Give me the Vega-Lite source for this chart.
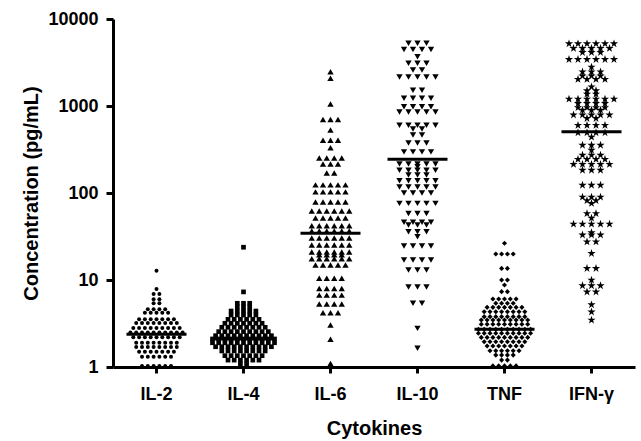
{
"$schema":"https://vega.github.io/schema/vega-lite/v6.json",
"width":522,"height":348,
"autosize":"none",
"padding":{"left":113,"top":19,"right":6,"bottom":74},
"background":"white",
"config":{"view":{"stroke":null},"axis":{"grid":false,"domainColor":"black","domainWidth":3,"tickColor":"black","tickWidth":3,"labelFont":"Liberation Sans","labelFontWeight":"bold","labelFontSize":18,"labelColor":"black","titleFont":"Liberation Sans","titleFontWeight":"bold","titleFontSize":20,"titleColor":"black"}},
"layer":[
{"data":{"values":[
{"c":"IL-2","v":12.8},{"c":"IL-2","v":7.9},{"c":"IL-2","v":6.9},{"c":"IL-2","v":6.9},{"c":"IL-2","v":6.0},{"c":"IL-2","v":6.0},{"c":"IL-2","v":5.4},{"c":"IL-2","v":5.4},
{"c":"IL-2","v":4.6},{"c":"IL-2","v":4.6},{"c":"IL-2","v":4.6},{"c":"IL-2","v":4.6},
{"c":"IL-2","v":4.2},{"c":"IL-2","v":4.2},{"c":"IL-2","v":4.2},{"c":"IL-2","v":4.2},{"c":"IL-2","v":4.2},
{"c":"IL-2","v":3.55},{"c":"IL-2","v":3.55},{"c":"IL-2","v":3.55},{"c":"IL-2","v":3.55},{"c":"IL-2","v":3.55},{"c":"IL-2","v":3.55},{"c":"IL-2","v":3.55},
{"c":"IL-2","v":3.2},{"c":"IL-2","v":3.2},{"c":"IL-2","v":3.2},{"c":"IL-2","v":3.2},{"c":"IL-2","v":3.2},{"c":"IL-2","v":3.2},{"c":"IL-2","v":3.2},{"c":"IL-2","v":3.2},
{"c":"IL-2","v":2.8},{"c":"IL-2","v":2.8},{"c":"IL-2","v":2.8},{"c":"IL-2","v":2.8},{"c":"IL-2","v":2.8},{"c":"IL-2","v":2.8},{"c":"IL-2","v":2.8},{"c":"IL-2","v":2.8},{"c":"IL-2","v":2.8},
{"c":"IL-2","v":2.5},{"c":"IL-2","v":2.5},{"c":"IL-2","v":2.5},{"c":"IL-2","v":2.5},{"c":"IL-2","v":2.5},{"c":"IL-2","v":2.5},{"c":"IL-2","v":2.5},{"c":"IL-2","v":2.5},{"c":"IL-2","v":2.5},{"c":"IL-2","v":2.5},
{"c":"IL-2","v":2.2},{"c":"IL-2","v":2.2},{"c":"IL-2","v":2.2},{"c":"IL-2","v":2.2},{"c":"IL-2","v":2.2},{"c":"IL-2","v":2.2},{"c":"IL-2","v":2.2},{"c":"IL-2","v":2.2},{"c":"IL-2","v":2.2},
{"c":"IL-2","v":1.9},{"c":"IL-2","v":1.9},{"c":"IL-2","v":1.9},{"c":"IL-2","v":1.9},{"c":"IL-2","v":1.9},{"c":"IL-2","v":1.9},{"c":"IL-2","v":1.9},{"c":"IL-2","v":1.9},
{"c":"IL-2","v":1.7},{"c":"IL-2","v":1.7},{"c":"IL-2","v":1.7},{"c":"IL-2","v":1.7},{"c":"IL-2","v":1.7},{"c":"IL-2","v":1.7},{"c":"IL-2","v":1.7},{"c":"IL-2","v":1.7},
{"c":"IL-2","v":1.5},{"c":"IL-2","v":1.5},{"c":"IL-2","v":1.5},{"c":"IL-2","v":1.5},{"c":"IL-2","v":1.5},{"c":"IL-2","v":1.5},{"c":"IL-2","v":1.5},
{"c":"IL-2","v":1.31},{"c":"IL-2","v":1.31},{"c":"IL-2","v":1.31},{"c":"IL-2","v":1.31},{"c":"IL-2","v":1.31},{"c":"IL-2","v":1.31},
{"c":"IL-2","v":1.03},{"c":"IL-2","v":1.03},{"c":"IL-2","v":1.03},{"c":"IL-2","v":1.03},{"c":"IL-2","v":1.03},{"c":"IL-2","v":1.03},
{"c":"IL-4","v":23.8},{"c":"IL-4","v":7.3},{"c":"IL-4","v":5.4},{"c":"IL-4","v":5.4},{"c":"IL-4","v":5.4},{"c":"IL-4","v":4.9},{"c":"IL-4","v":4.9},{"c":"IL-4","v":4.9},
{"c":"IL-4","v":4.4},{"c":"IL-4","v":4.4},{"c":"IL-4","v":4.4},{"c":"IL-4","v":4.4},{"c":"IL-4","v":4.4},
{"c":"IL-4","v":3.96},{"c":"IL-4","v":3.96},{"c":"IL-4","v":3.96},{"c":"IL-4","v":3.96},{"c":"IL-4","v":3.96},
{"c":"IL-4","v":3.53},{"c":"IL-4","v":3.53},{"c":"IL-4","v":3.53},{"c":"IL-4","v":3.53},{"c":"IL-4","v":3.53},{"c":"IL-4","v":3.53},
{"c":"IL-4","v":3.18},{"c":"IL-4","v":3.18},{"c":"IL-4","v":3.18},{"c":"IL-4","v":3.18},{"c":"IL-4","v":3.18},{"c":"IL-4","v":3.18},{"c":"IL-4","v":3.18},
{"c":"IL-4","v":2.86},{"c":"IL-4","v":2.86},{"c":"IL-4","v":2.86},{"c":"IL-4","v":2.86},{"c":"IL-4","v":2.86},{"c":"IL-4","v":2.86},{"c":"IL-4","v":2.86},{"c":"IL-4","v":2.86},
{"c":"IL-4","v":2.55},{"c":"IL-4","v":2.55},{"c":"IL-4","v":2.55},{"c":"IL-4","v":2.55},{"c":"IL-4","v":2.55},{"c":"IL-4","v":2.55},{"c":"IL-4","v":2.55},{"c":"IL-4","v":2.55},{"c":"IL-4","v":2.55},
{"c":"IL-4","v":2.29},{"c":"IL-4","v":2.29},{"c":"IL-4","v":2.29},{"c":"IL-4","v":2.29},{"c":"IL-4","v":2.29},{"c":"IL-4","v":2.29},{"c":"IL-4","v":2.29},{"c":"IL-4","v":2.29},{"c":"IL-4","v":2.29},{"c":"IL-4","v":2.29},
{"c":"IL-4","v":2.1},{"c":"IL-4","v":2.1},{"c":"IL-4","v":2.1},{"c":"IL-4","v":2.1},{"c":"IL-4","v":2.1},{"c":"IL-4","v":2.1},{"c":"IL-4","v":2.1},{"c":"IL-4","v":2.1},{"c":"IL-4","v":2.1},{"c":"IL-4","v":2.1},{"c":"IL-4","v":2.1},
{"c":"IL-4","v":1.9},{"c":"IL-4","v":1.9},{"c":"IL-4","v":1.9},{"c":"IL-4","v":1.9},{"c":"IL-4","v":1.9},{"c":"IL-4","v":1.9},{"c":"IL-4","v":1.9},{"c":"IL-4","v":1.9},{"c":"IL-4","v":1.9},{"c":"IL-4","v":1.9},{"c":"IL-4","v":1.9},
{"c":"IL-4","v":1.71},{"c":"IL-4","v":1.71},{"c":"IL-4","v":1.71},{"c":"IL-4","v":1.71},{"c":"IL-4","v":1.71},{"c":"IL-4","v":1.71},{"c":"IL-4","v":1.71},{"c":"IL-4","v":1.71},{"c":"IL-4","v":1.71},{"c":"IL-4","v":1.71},
{"c":"IL-4","v":1.53},{"c":"IL-4","v":1.53},{"c":"IL-4","v":1.53},{"c":"IL-4","v":1.53},{"c":"IL-4","v":1.53},{"c":"IL-4","v":1.53},{"c":"IL-4","v":1.53},{"c":"IL-4","v":1.53},
{"c":"IL-4","v":1.35},{"c":"IL-4","v":1.35},{"c":"IL-4","v":1.35},{"c":"IL-4","v":1.35},{"c":"IL-4","v":1.35},{"c":"IL-4","v":1.35},{"c":"IL-4","v":1.35},
{"c":"IL-4","v":1.2},{"c":"IL-4","v":1.2},{"c":"IL-4","v":1.2},{"c":"IL-4","v":1.2},{"c":"IL-4","v":1.2},{"c":"IL-4","v":1.2},
{"c":"IL-4","v":1.08},{"c":"IL-4","v":1.08},
{"c":"IL-6","v":2480},{"c":"IL-6","v":2080},{"c":"IL-6","v":1054},{"c":"IL-6","v":700},{"c":"IL-6","v":700},{"c":"IL-6","v":700},{"c":"IL-6","v":530},
{"c":"IL-6","v":405},{"c":"IL-6","v":405},{"c":"IL-6","v":405},{"c":"IL-6","v":331},
{"c":"IL-6","v":252},{"c":"IL-6","v":252},{"c":"IL-6","v":252},{"c":"IL-6","v":252},
{"c":"IL-6","v":215},{"c":"IL-6","v":215},{"c":"IL-6","v":215},{"c":"IL-6","v":170},{"c":"IL-6","v":170},
{"c":"IL-6","v":124},{"c":"IL-6","v":124},{"c":"IL-6","v":124},{"c":"IL-6","v":124},{"c":"IL-6","v":124},
{"c":"IL-6","v":103},{"c":"IL-6","v":103},{"c":"IL-6","v":103},{"c":"IL-6","v":103},{"c":"IL-6","v":103},
{"c":"IL-6","v":79},{"c":"IL-6","v":79},{"c":"IL-6","v":79},{"c":"IL-6","v":79},{"c":"IL-6","v":79},
{"c":"IL-6","v":62},{"c":"IL-6","v":62},{"c":"IL-6","v":62},{"c":"IL-6","v":62},{"c":"IL-6","v":62},{"c":"IL-6","v":62},
{"c":"IL-6","v":51.5},{"c":"IL-6","v":51.5},{"c":"IL-6","v":51.5},{"c":"IL-6","v":51.5},{"c":"IL-6","v":51.5},
{"c":"IL-6","v":42},{"c":"IL-6","v":42},{"c":"IL-6","v":42},{"c":"IL-6","v":42},{"c":"IL-6","v":42},{"c":"IL-6","v":42},
{"c":"IL-6","v":36.5},{"c":"IL-6","v":36.5},{"c":"IL-6","v":36.5},{"c":"IL-6","v":36.5},{"c":"IL-6","v":36.5},{"c":"IL-6","v":36.5},
{"c":"IL-6","v":30.4},{"c":"IL-6","v":30.4},{"c":"IL-6","v":30.4},{"c":"IL-6","v":30.4},{"c":"IL-6","v":30.4},{"c":"IL-6","v":30.4},
{"c":"IL-6","v":25.3},{"c":"IL-6","v":25.3},{"c":"IL-6","v":25.3},{"c":"IL-6","v":25.3},{"c":"IL-6","v":25.3},{"c":"IL-6","v":25.3},
{"c":"IL-6","v":21},{"c":"IL-6","v":21},{"c":"IL-6","v":21},{"c":"IL-6","v":21},{"c":"IL-6","v":21},{"c":"IL-6","v":21},
{"c":"IL-6","v":19.5},{"c":"IL-6","v":19.5},{"c":"IL-6","v":19.5},{"c":"IL-6","v":19.5},
{"c":"IL-6","v":17.6},{"c":"IL-6","v":17.6},{"c":"IL-6","v":17.6},{"c":"IL-6","v":17.6},{"c":"IL-6","v":17.6},{"c":"IL-6","v":17.6},
{"c":"IL-6","v":14.9},{"c":"IL-6","v":14.9},{"c":"IL-6","v":14.9},{"c":"IL-6","v":14.9},{"c":"IL-6","v":14.9},
{"c":"IL-6","v":10.5},{"c":"IL-6","v":10.5},{"c":"IL-6","v":10.5},{"c":"IL-6","v":10.5},
{"c":"IL-6","v":8.0},{"c":"IL-6","v":8.0},{"c":"IL-6","v":8.0},{"c":"IL-6","v":8.0},
{"c":"IL-6","v":6.7},{"c":"IL-6","v":6.7},{"c":"IL-6","v":6.7},{"c":"IL-6","v":6.7},
{"c":"IL-6","v":5.3},{"c":"IL-6","v":5.3},{"c":"IL-6","v":5.3},{"c":"IL-6","v":5.3},
{"c":"IL-6","v":4.2},{"c":"IL-6","v":4.2},{"c":"IL-6","v":4.2},{"c":"IL-6","v":3.04},{"c":"IL-6","v":2.08},{"c":"IL-6","v":1.1},
{"c":"IL-10","v":5250},{"c":"IL-10","v":5250},{"c":"IL-10","v":5250},{"c":"IL-10","v":4470},{"c":"IL-10","v":4470},{"c":"IL-10","v":4470},{"c":"IL-10","v":4470},
{"c":"IL-10","v":3690},{"c":"IL-10","v":3100},{"c":"IL-10","v":3100},{"c":"IL-10","v":3100},{"c":"IL-10","v":2590},{"c":"IL-10","v":2590},
{"c":"IL-10","v":2150},{"c":"IL-10","v":2150},{"c":"IL-10","v":2150},{"c":"IL-10","v":2150},{"c":"IL-10","v":2150},
{"c":"IL-10","v":1520},{"c":"IL-10","v":1520},{"c":"IL-10","v":1230},{"c":"IL-10","v":1230},{"c":"IL-10","v":1230},{"c":"IL-10","v":1230},
{"c":"IL-10","v":980},{"c":"IL-10","v":980},{"c":"IL-10","v":980},{"c":"IL-10","v":980},
{"c":"IL-10","v":855},{"c":"IL-10","v":855},{"c":"IL-10","v":855},{"c":"IL-10","v":855},{"c":"IL-10","v":855},
{"c":"IL-10","v":600},{"c":"IL-10","v":600},{"c":"IL-10","v":600},{"c":"IL-10","v":600},{"c":"IL-10","v":600},
{"c":"IL-10","v":545},{"c":"IL-10","v":545},{"c":"IL-10","v":465},{"c":"IL-10","v":465},
{"c":"IL-10","v":375},{"c":"IL-10","v":375},{"c":"IL-10","v":375},{"c":"IL-10","v":297},{"c":"IL-10","v":297},{"c":"IL-10","v":297},{"c":"IL-10","v":297},
{"c":"IL-10","v":215},{"c":"IL-10","v":215},{"c":"IL-10","v":215},{"c":"IL-10","v":215},{"c":"IL-10","v":215},{"c":"IL-10","v":200},
{"c":"IL-10","v":183},{"c":"IL-10","v":183},{"c":"IL-10","v":183},{"c":"IL-10","v":183},{"c":"IL-10","v":183},
{"c":"IL-10","v":161},{"c":"IL-10","v":161},{"c":"IL-10","v":161},
{"c":"IL-10","v":138},{"c":"IL-10","v":138},{"c":"IL-10","v":138},{"c":"IL-10","v":138},{"c":"IL-10","v":138},
{"c":"IL-10","v":117},{"c":"IL-10","v":117},{"c":"IL-10","v":117},{"c":"IL-10","v":117},{"c":"IL-10","v":117},
{"c":"IL-10","v":100},{"c":"IL-10","v":100},{"c":"IL-10","v":100},{"c":"IL-10","v":100},
{"c":"IL-10","v":76},{"c":"IL-10","v":76},{"c":"IL-10","v":76},{"c":"IL-10","v":76},{"c":"IL-10","v":76},
{"c":"IL-10","v":58},{"c":"IL-10","v":58},{"c":"IL-10","v":58},
{"c":"IL-10","v":46},{"c":"IL-10","v":46},{"c":"IL-10","v":46},{"c":"IL-10","v":46},
{"c":"IL-10","v":43},{"c":"IL-10","v":43},{"c":"IL-10","v":43},
{"c":"IL-10","v":35.8},{"c":"IL-10","v":35.8},{"c":"IL-10","v":35.8},{"c":"IL-10","v":31.4},
{"c":"IL-10","v":24.6},{"c":"IL-10","v":24.6},{"c":"IL-10","v":24.6},{"c":"IL-10","v":24.6},
{"c":"IL-10","v":17},{"c":"IL-10","v":17},{"c":"IL-10","v":17},{"c":"IL-10","v":17},
{"c":"IL-10","v":13},{"c":"IL-10","v":13},{"c":"IL-10","v":13},
{"c":"IL-10","v":8.3},{"c":"IL-10","v":8.3},{"c":"IL-10","v":8.3},
{"c":"IL-10","v":5.4},{"c":"IL-10","v":5.4},{"c":"IL-10","v":2.78},{"c":"IL-10","v":1.64},
{"c":"TNF","v":26.4},{"c":"TNF","v":19.9},{"c":"TNF","v":19.9},{"c":"TNF","v":19.9},{"c":"TNF","v":19.9},
{"c":"TNF","v":13.6},{"c":"TNF","v":13.6},{"c":"TNF","v":10},{"c":"TNF","v":10},{"c":"TNF","v":8.75},{"c":"TNF","v":7.35},{"c":"TNF","v":7.35},
{"c":"TNF","v":6.04},{"c":"TNF","v":6.04},{"c":"TNF","v":6.04},{"c":"TNF","v":6.04},{"c":"TNF","v":6.04},
{"c":"TNF","v":5.4},{"c":"TNF","v":5.4},{"c":"TNF","v":5.4},{"c":"TNF","v":5.4},
{"c":"TNF","v":4.85},{"c":"TNF","v":4.85},{"c":"TNF","v":4.85},{"c":"TNF","v":4.85},{"c":"TNF","v":4.85},{"c":"TNF","v":4.85},{"c":"TNF","v":4.85},
{"c":"TNF","v":4.32},{"c":"TNF","v":4.32},{"c":"TNF","v":4.32},{"c":"TNF","v":4.32},{"c":"TNF","v":4.32},{"c":"TNF","v":4.32},{"c":"TNF","v":4.32},{"c":"TNF","v":4.32},
{"c":"TNF","v":3.79},{"c":"TNF","v":3.79},{"c":"TNF","v":3.79},{"c":"TNF","v":3.79},{"c":"TNF","v":3.79},{"c":"TNF","v":3.79},{"c":"TNF","v":3.79},{"c":"TNF","v":3.79},
{"c":"TNF","v":3.47},{"c":"TNF","v":3.47},{"c":"TNF","v":3.47},{"c":"TNF","v":3.47},{"c":"TNF","v":3.47},{"c":"TNF","v":3.47},{"c":"TNF","v":3.47},{"c":"TNF","v":3.47},{"c":"TNF","v":3.47},
{"c":"TNF","v":3.1},{"c":"TNF","v":3.1},{"c":"TNF","v":3.1},{"c":"TNF","v":3.1},{"c":"TNF","v":3.1},{"c":"TNF","v":3.1},{"c":"TNF","v":3.1},{"c":"TNF","v":3.1},{"c":"TNF","v":3.1},
{"c":"TNF","v":2.71},{"c":"TNF","v":2.71},{"c":"TNF","v":2.71},{"c":"TNF","v":2.71},{"c":"TNF","v":2.71},{"c":"TNF","v":2.71},{"c":"TNF","v":2.71},{"c":"TNF","v":2.71},{"c":"TNF","v":2.71},{"c":"TNF","v":2.71},
{"c":"TNF","v":2.44},{"c":"TNF","v":2.44},{"c":"TNF","v":2.44},{"c":"TNF","v":2.44},{"c":"TNF","v":2.44},{"c":"TNF","v":2.44},{"c":"TNF","v":2.44},{"c":"TNF","v":2.44},{"c":"TNF","v":2.44},{"c":"TNF","v":2.44},
{"c":"TNF","v":2.19},{"c":"TNF","v":2.19},{"c":"TNF","v":2.19},{"c":"TNF","v":2.19},{"c":"TNF","v":2.19},{"c":"TNF","v":2.19},{"c":"TNF","v":2.19},{"c":"TNF","v":2.19},{"c":"TNF","v":2.19},
{"c":"TNF","v":1.95},{"c":"TNF","v":1.95},{"c":"TNF","v":1.95},{"c":"TNF","v":1.95},{"c":"TNF","v":1.95},{"c":"TNF","v":1.95},{"c":"TNF","v":1.95},{"c":"TNF","v":1.95},
{"c":"TNF","v":1.74},{"c":"TNF","v":1.74},{"c":"TNF","v":1.74},{"c":"TNF","v":1.74},{"c":"TNF","v":1.74},{"c":"TNF","v":1.74},{"c":"TNF","v":1.74},
{"c":"TNF","v":1.54},{"c":"TNF","v":1.54},{"c":"TNF","v":1.54},{"c":"TNF","v":1.54},{"c":"TNF","v":1.54},{"c":"TNF","v":1.54},
{"c":"TNF","v":1.37},{"c":"TNF","v":1.37},{"c":"TNF","v":1.37},{"c":"TNF","v":1.37},{"c":"TNF","v":1.2},{"c":"TNF","v":1.2},
{"c":"TNF","v":1.03},{"c":"TNF","v":1.03},{"c":"TNF","v":1.03},{"c":"TNF","v":1.03},{"c":"TNF","v":1.03},
{"c":"IFN-γ","v":5200},{"c":"IFN-γ","v":5200},{"c":"IFN-γ","v":5200},{"c":"IFN-γ","v":5200},{"c":"IFN-γ","v":5200},{"c":"IFN-γ","v":5200},
{"c":"IFN-γ","v":4600},{"c":"IFN-γ","v":4600},{"c":"IFN-γ","v":4600},{"c":"IFN-γ","v":4600},{"c":"IFN-γ","v":4600},
{"c":"IFN-γ","v":4130},{"c":"IFN-γ","v":4130},{"c":"IFN-γ","v":4130},
{"c":"IFN-γ","v":3430},{"c":"IFN-γ","v":3430},{"c":"IFN-γ","v":3430},{"c":"IFN-γ","v":3430},{"c":"IFN-γ","v":3430},{"c":"IFN-γ","v":3430},
{"c":"IFN-γ","v":2800},{"c":"IFN-γ","v":2470},{"c":"IFN-γ","v":2470},{"c":"IFN-γ","v":2470},{"c":"IFN-γ","v":2220},{"c":"IFN-γ","v":2220},{"c":"IFN-γ","v":2220},
{"c":"IFN-γ","v":2030},{"c":"IFN-γ","v":2030},{"c":"IFN-γ","v":2030},{"c":"IFN-γ","v":2030},{"c":"IFN-γ","v":1660},{"c":"IFN-γ","v":1500},{"c":"IFN-γ","v":1500},
{"c":"IFN-γ","v":1370},{"c":"IFN-γ","v":1370},
{"c":"IFN-γ","v":1200},{"c":"IFN-γ","v":1200},{"c":"IFN-γ","v":1200},{"c":"IFN-γ","v":1200},{"c":"IFN-γ","v":1200},{"c":"IFN-γ","v":1200},
{"c":"IFN-γ","v":1070},{"c":"IFN-γ","v":1070},{"c":"IFN-γ","v":1070},{"c":"IFN-γ","v":1070},
{"c":"IFN-γ","v":960},{"c":"IFN-γ","v":960},{"c":"IFN-γ","v":960},{"c":"IFN-γ","v":960},{"c":"IFN-γ","v":900},{"c":"IFN-γ","v":900},{"c":"IFN-γ","v":900},
{"c":"IFN-γ","v":790},{"c":"IFN-γ","v":790},{"c":"IFN-γ","v":790},{"c":"IFN-γ","v":790},{"c":"IFN-γ","v":790},{"c":"IFN-γ","v":720},{"c":"IFN-γ","v":720},
{"c":"IFN-γ","v":600},{"c":"IFN-γ","v":600},{"c":"IFN-γ","v":600},{"c":"IFN-γ","v":600},
{"c":"IFN-γ","v":494},{"c":"IFN-γ","v":494},{"c":"IFN-γ","v":494},{"c":"IFN-γ","v":494},{"c":"IFN-γ","v":440},
{"c":"IFN-γ","v":355},{"c":"IFN-γ","v":355},{"c":"IFN-γ","v":355},{"c":"IFN-γ","v":311},{"c":"IFN-γ","v":272},{"c":"IFN-γ","v":272},{"c":"IFN-γ","v":272},
{"c":"IFN-γ","v":244},{"c":"IFN-γ","v":244},{"c":"IFN-γ","v":244},{"c":"IFN-γ","v":244},
{"c":"IFN-γ","v":214},{"c":"IFN-γ","v":214},{"c":"IFN-γ","v":214},{"c":"IFN-γ","v":214},{"c":"IFN-γ","v":214},
{"c":"IFN-γ","v":183},{"c":"IFN-γ","v":183},{"c":"IFN-γ","v":183},{"c":"IFN-γ","v":123},{"c":"IFN-γ","v":123},{"c":"IFN-γ","v":123},
{"c":"IFN-γ","v":90},{"c":"IFN-γ","v":90},{"c":"IFN-γ","v":90},{"c":"IFN-γ","v":82},{"c":"IFN-γ","v":82},{"c":"IFN-γ","v":76},
{"c":"IFN-γ","v":58},{"c":"IFN-γ","v":58},{"c":"IFN-γ","v":51.5},
{"c":"IFN-γ","v":44},{"c":"IFN-γ","v":44},{"c":"IFN-γ","v":44},{"c":"IFN-γ","v":44},{"c":"IFN-γ","v":44},
{"c":"IFN-γ","v":35},{"c":"IFN-γ","v":33},{"c":"IFN-γ","v":33},{"c":"IFN-γ","v":33},{"c":"IFN-γ","v":27.5},{"c":"IFN-γ","v":27.5},
{"c":"IFN-γ","v":20.2},{"c":"IFN-γ","v":13.6},{"c":"IFN-γ","v":13.6},{"c":"IFN-γ","v":10},
{"c":"IFN-γ","v":8.6},{"c":"IFN-γ","v":8.6},{"c":"IFN-γ","v":8.6},{"c":"IFN-γ","v":7.3},{"c":"IFN-γ","v":7.3},
{"c":"IFN-γ","v":5.2},{"c":"IFN-γ","v":4.3},{"c":"IFN-γ","v":3.47}
]},
"transform":[
{"window":[{"op":"row_number","as":"rn"},{"op":"count","as":"n"}],"groupby":["c","v"],"frame":[null,null]},
{"calculate":"(datum.rn - (datum.n + 1) / 2) * (datum.c === 'IL-10' || datum.c === 'IFN-γ' ? 9 : datum.c === 'IL-6' ? 7.5 : datum.c === 'IL-4' ? 6.2 : 5.8)","as":"off"}
],
"mark":{"type":"point","filled":true,"color":"black","opacity":1,"strokeWidth":0,"clip":false},
"encoding":{
"x":{"field":"c","type":"nominal","scale":{"domain":["IL-2","IL-4","IL-6","IL-10","TNF","IFN-γ"],"paddingInner":0,"paddingOuter":0},"axis":{"title":"Cytokines","labelAngle":0,"tickSize":6,"labelPadding":12,"titlePadding":15}},
"xOffset":{"field":"off","type":"quantitative","scale":{"domain":[-43.5,43.5],"range":[0,87]}},
"y":{"field":"v","type":"quantitative","scale":{"type":"log","domain":[1,10000]},"axis":{"title":"Concentration (pg/mL)","values":[1,10,100,1000,10000],"format":"d","tickSize":7,"labelPadding":8,"titlePadding":6}},
"shape":{"field":"c","type":"nominal","scale":{"domain":["IL-2","IL-4","IL-6","IL-10","TNF","IFN-γ"],"range":["circle","square","triangle-up","triangle-down","diamond","M0,-1L0.2245,-0.309L0.9511,-0.309L0.3633,0.118L0.5878,0.809L0,0.382L-0.5878,0.809L-0.3633,0.118L-0.9511,-0.309L-0.2245,-0.309Z"]},"legend":null},
"size":{"field":"c","type":"nominal","scale":{"type":"ordinal","domain":["IL-2","IL-4","IL-6","IL-10","TNF","IFN-γ"],"range":[16,22,40,40,26,75]},"legend":null}
}},
{"data":{"values":[
{"c":"IL-2","m":2.38},{"c":"IL-4","m":2.1},{"c":"IL-6","m":34.4},{"c":"IL-10","m":244},{"c":"TNF","m":2.71},{"c":"IFN-γ","m":507}
]},
"mark":{"type":"tick","color":"black","thickness":3,"size":60,"opacity":1},
"encoding":{
"x":{"field":"c","type":"nominal"},
"y":{"field":"m","type":"quantitative"}
}}
]
}
